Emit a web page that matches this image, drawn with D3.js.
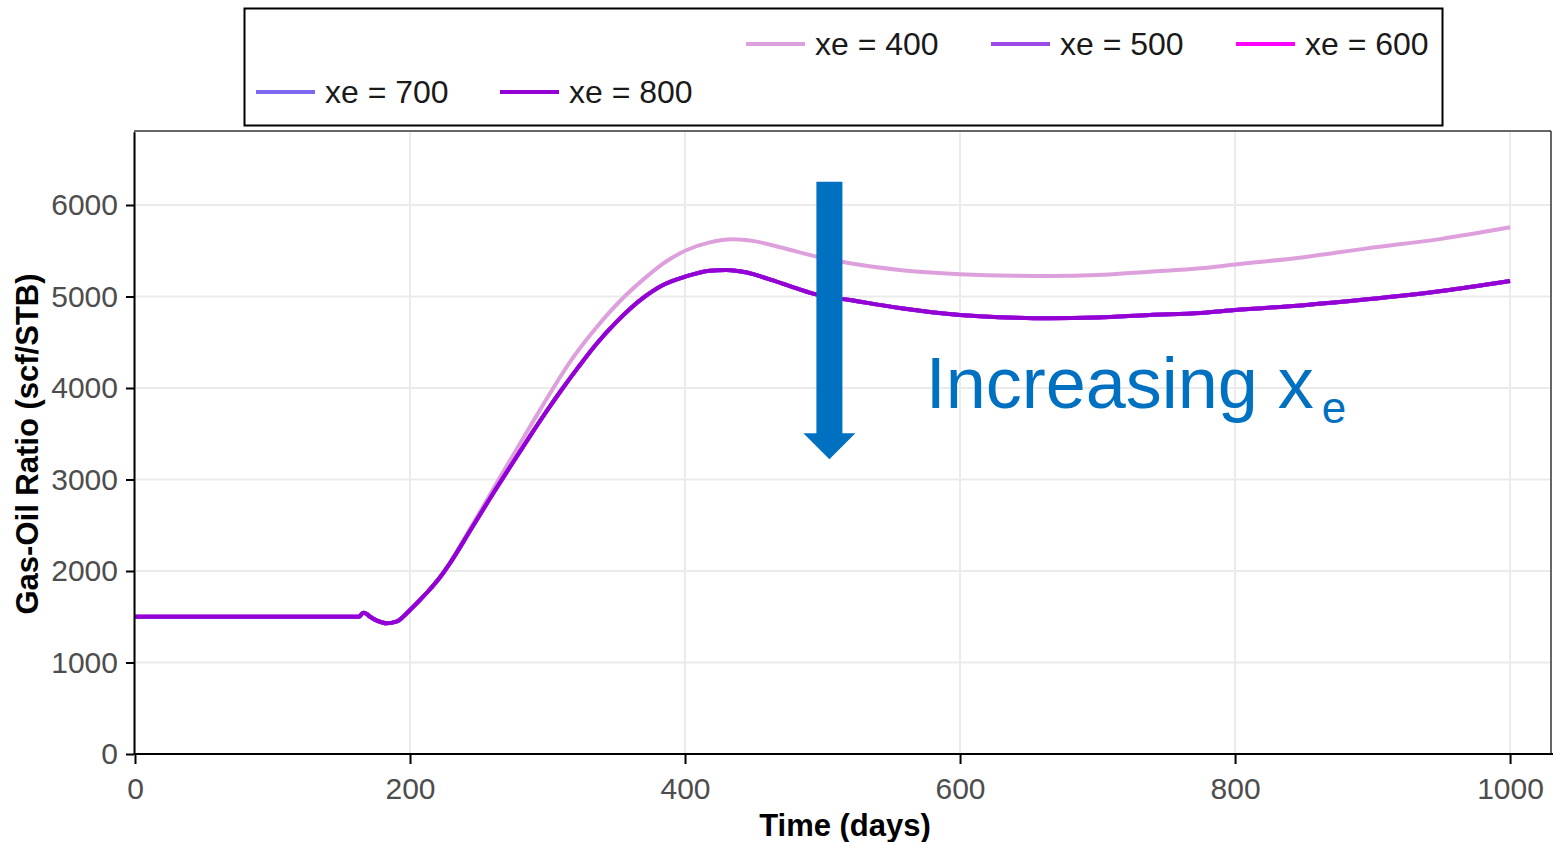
<!DOCTYPE html>
<html>
<head>
<meta charset="utf-8">
<script src="https://cdn.jsdelivr.net/npm/d3@7/dist/d3.min.js"></script>
<style>
  html, body { margin: 0; padding: 0; background: #fff; }
  svg { display: block; font-family: "Liberation Sans", Arial, sans-serif; }
</style>
</head>
<body>
<svg id="chart" width="1553" height="842"></svg>
<script>
// ---- data ----
const seriesNames = ["xe = 400", "xe = 500", "xe = 600", "xe = 700", "xe = 800"];
const seriesColors = ["#dda0dd", "#9b4be6", "#ff00ff", "#7b68ee", "#9400d3"];

const tLower = [0, 50, 100, 150, 163, 166, 168, 171, 176, 183, 190, 195, 200, 207, 214, 222, 229, 244, 258, 272, 287, 300, 310, 322, 336, 350, 370, 384, 400, 418, 430, 445, 460, 480, 496, 520, 556, 600, 640, 665, 700, 738, 775, 800, 850, 896, 950, 1000];
const gor800 = [1500, 1500, 1500, 1500, 1500, 1545, 1535, 1500, 1457, 1428, 1446, 1500, 1574, 1680, 1792, 1935, 2084, 2448, 2790, 3120, 3468, 3760, 3975, 4220, 4490, 4720, 4990, 5126, 5216, 5282, 5290, 5262, 5195, 5095, 5020, 4962, 4874, 4798, 4768, 4761, 4770, 4798, 4820, 4852, 4905, 4969, 5060, 5169];
const gor700 = [1500, 1500, 1500, 1500, 1500, 1545, 1535, 1500, 1457, 1428, 1446, 1500, 1574, 1680, 1792, 1935, 2084, 2448, 2790, 3120, 3468, 3760, 3975, 4220, 4490, 4720, 4990, 5126, 5216, 5282, 5290, 5262, 5195, 5095, 5020, 4962, 4874, 4798, 4768, 4761, 4770, 4798, 4820, 4852, 4905, 4969, 5060, 5169];
const gor600 = [1500, 1500, 1500, 1500, 1500, 1545, 1535, 1500, 1457, 1428, 1446, 1500, 1574, 1680, 1792, 1935, 2084, 2448, 2790, 3120, 3468, 3760, 3975, 4220, 4490, 4720, 4990, 5126, 5216, 5282, 5290, 5262, 5195, 5095, 5020, 4962, 4874, 4798, 4768, 4761, 4770, 4798, 4820, 4852, 4905, 4969, 5060, 5169];
const gor500 = [1500, 1500, 1500, 1500, 1500, 1545, 1535, 1500, 1457, 1428, 1446, 1500, 1574, 1680, 1792, 1935, 2084, 2448, 2790, 3120, 3468, 3760, 3975, 4220, 4490, 4720, 4990, 5126, 5216, 5282, 5290, 5262, 5195, 5095, 5020, 4962, 4874, 4798, 4768, 4761, 4770, 4798, 4820, 4852, 4905, 4969, 5060, 5169];

const tUpper = [0, 50, 100, 150, 163, 166, 168, 171, 176, 183, 190, 195, 200, 207, 214, 222, 229, 244, 258, 272, 287, 304, 318, 336, 356, 370, 384, 400, 418, 435, 450, 470, 496, 520, 556, 600, 640, 665, 700, 738, 775, 800, 850, 896, 950, 1000];
const gor400 = [1500, 1500, 1500, 1500, 1500, 1545, 1535, 1500, 1457, 1428, 1446, 1500, 1574, 1680, 1792, 1940, 2090, 2470, 2830, 3190, 3570, 3995, 4320, 4670, 5000, 5190, 5360, 5500, 5592, 5625, 5605, 5535, 5435, 5363, 5290, 5243, 5226, 5224, 5235, 5271, 5308, 5350, 5430, 5526, 5630, 5756];

const xTicks = [0, 200, 400, 600, 800, 1000];
const yTicks = [0, 1000, 2000, 3000, 4000, 5000, 6000];

// ---- layout ----
const svg = d3.select("#chart");
const pLeft = 134, pRight = 1551, pTop = 131, pBottom = 754;
const x = d3.scaleLinear().domain([0, 1030.5]).range([135, 1552]);
const y = d3.scaleLinear().domain([0, 6800]).range([754, 131.8]);

// grid
const grid = svg.append("g");
grid.selectAll(".gx").data(xTicks).join("line")
  .attr("x1", d => x(d)).attr("x2", d => x(d))
  .attr("y1", pTop).attr("y2", pBottom)
  .attr("stroke", "#ebebeb").attr("stroke-width", 2);
grid.selectAll(".gy").data(yTicks).join("line")
  .attr("x1", pLeft).attr("x2", pRight)
  .attr("y1", d => y(d)).attr("y2", d => y(d))
  .attr("stroke", "#ebebeb").attr("stroke-width", 2);

// panel border (top / right)
svg.append("line").attr("x1", pLeft).attr("x2", pRight).attr("y1", pTop).attr("y2", pTop)
  .attr("stroke", "#333").attr("stroke-width", 1.5);
svg.append("line").attr("x1", pRight).attr("x2", pRight).attr("y1", pTop).attr("y2", pBottom)
  .attr("stroke", "#333").attr("stroke-width", 1.5);

// lines
const seriesData = [
  { t: tUpper, v: gor400 },
  { t: tLower, v: gor500 },
  { t: tLower, v: gor600 },
  { t: tLower, v: gor700 },
  { t: tLower, v: gor800 }
];
const line = d3.line().x(d => x(d[0])).y(d => y(d[1])).curve(d3.curveMonotoneX);
seriesData.forEach((s, i) => {
  const pts = s.t.map((t, j) => [t, s.v[j]]);
  svg.append("path").datum(pts)
    .attr("d", line)
    .attr("fill", "none")
    .attr("stroke", seriesColors[i])
    .attr("stroke-width", 4)
    .attr("stroke-linejoin", "round");
});

// axes
const fmt = d3.format("d");
const xAxis = svg.append("g").attr("transform", `translate(0,${pBottom})`)
  .call(d3.axisBottom(x).tickValues(xTicks).tickFormat(fmt).tickSize(10).tickPadding(14).tickSizeOuter(0));
const yAxis = svg.append("g").attr("transform", `translate(${pLeft},0)`)
  .call(d3.axisLeft(y).tickValues(yTicks).tickFormat(fmt).tickSize(8).tickPadding(8).tickSizeOuter(0));
[xAxis, yAxis].forEach(a => {
  a.select(".domain").attr("stroke", "#000").attr("stroke-width", 2);
  a.selectAll(".tick line").attr("stroke", "#000").attr("stroke-width", 2);
  a.selectAll(".tick text").attr("fill", "#4d4d4d").attr("font-size", 30)
    .attr("font-family", "'Liberation Sans', Arial, sans-serif");
});
xAxis.select(".domain").attr("d", `M${pLeft},0H1553`);

// axis titles
svg.append("text").attr("x", 845).attr("y", 836).attr("text-anchor", "middle")
  .attr("font-size", 31).attr("font-weight", "bold").attr("fill", "#000")
  .text("Time (days)");
svg.append("text").attr("transform", "translate(38,444) rotate(-90)")
  .attr("text-anchor", "middle")
  .attr("font-size", 31).attr("font-weight", "bold").attr("fill", "#000")
  .text("Gas-Oil Ratio (scf/STB)");

// annotation arrow
const arrowX = 505, arrowTop = 6255, arrowHead = 3505, arrowTip = 3220;
const ax = x(arrowX);
const ap = d3.path();
ap.moveTo(ax - 13, y(arrowTop));
ap.lineTo(ax + 13, y(arrowTop));
ap.lineTo(ax + 13, y(arrowHead));
ap.lineTo(ax + 26, y(arrowHead));
ap.lineTo(ax, y(arrowTip));
ap.lineTo(ax - 26, y(arrowHead));
ap.lineTo(ax - 13, y(arrowHead));
ap.closePath();
svg.append("path").attr("d", ap.toString()).attr("fill", "#0070c0");

const annT = svg.append("text").attr("x", x(575)).attr("y", y(3781))
  .attr("font-size", 72).attr("fill", "#0070c0");
annT.append("tspan").text("Increasing x");
annT.append("tspan").attr("font-size", 44).attr("dy", 15).attr("dx", 8).text("e");

// legend
const lg = svg.append("g");
lg.append("rect").attr("x", 244.5).attr("y", 8.5).attr("width", 1198).attr("height", 117)
  .attr("fill", "#fff").attr("stroke", "#000").attr("stroke-width", 2);
const legendPos = [
  { lx: 746, ly: 44 }, { lx: 991, ly: 44 }, { lx: 1236, ly: 44 },
  { lx: 256, ly: 92 }, { lx: 500, ly: 92 }
];
seriesNames.forEach((n, i) => {
  const p = legendPos[i];
  lg.append("line").attr("x1", p.lx).attr("x2", p.lx + 59).attr("y1", p.ly).attr("y2", p.ly)
    .attr("stroke", seriesColors[i]).attr("stroke-width", 4);
  lg.append("text").attr("x", p.lx + 69).attr("y", p.ly + 11)
    .attr("font-size", 32).attr("fill", "#1a1a1a").text(n);
});
</script>
</body>
</html>
